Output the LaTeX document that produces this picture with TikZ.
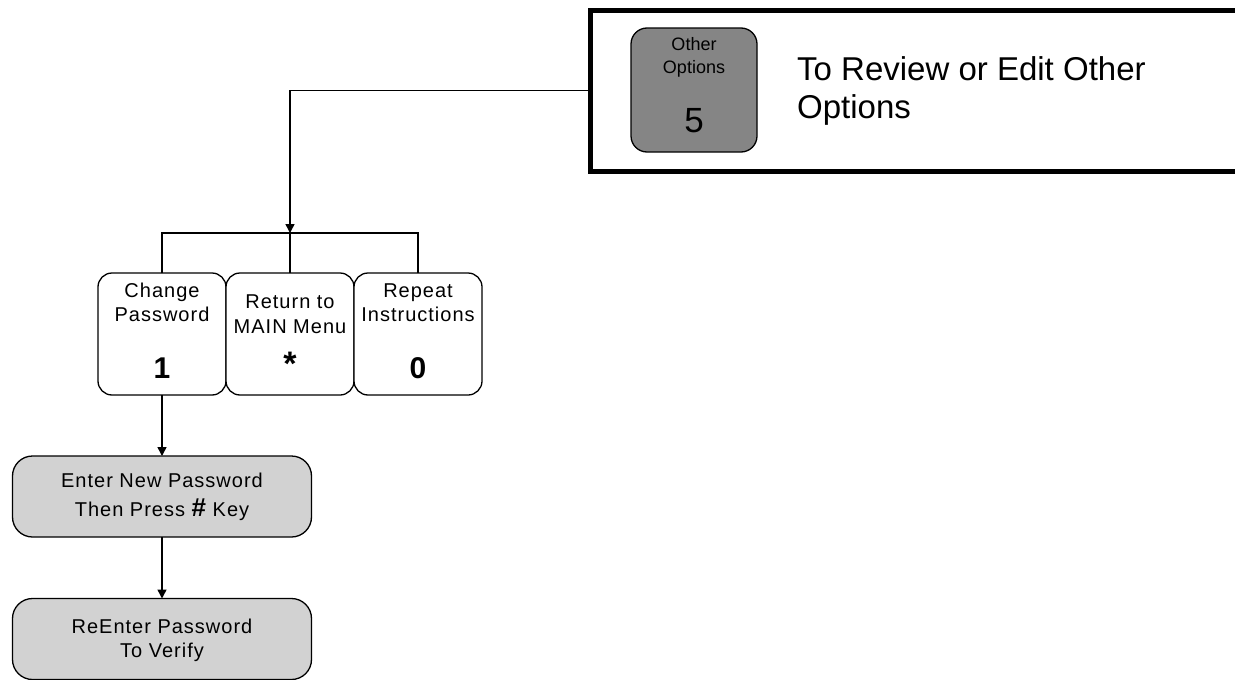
\documentclass[tikz,border=0pt]{standalone}
\usepackage{fontspec}
\setmainfont{Liberation Sans}
\usetikzlibrary{arrows.meta}
\definecolor{darkbox}{HTML}{858585}
\definecolor{lightbox}{HTML}{D2D2D2}
\tikzset{
  optbox/.style={draw, line width=1.3pt, fill=white, rounded corners=14pt, inner sep=0pt, outer sep=0pt, minimum width=128pt, minimum height=122pt},
  stepbox/.style={draw, line width=1.3pt, fill=lightbox, rounded corners=20pt, inner sep=0pt, outer sep=0pt, minimum width=299pt, minimum height=81pt},
  keybox/.style={draw, line width=1.3pt, fill=darkbox, rounded corners=16pt, inner sep=0pt, outer sep=0pt, minimum width=126pt, minimum height=124pt},
  framebox/.style={draw, line width=5pt, inner sep=0pt, outer sep=0pt, minimum width=710pt, minimum height=161pt},
  txt/.style={inner sep=0pt, anchor=base, font=\fontsize{20}{24}\selectfont\addfontfeature{LetterSpace=5}},
  small/.style={inner sep=0pt, anchor=base, font=\fontsize{18}{20}\selectfont},
  big/.style={inner sep=0pt, anchor=base, font=\fontsize{33}{38}\selectfont},
  digit/.style={inner sep=0pt, anchor=base, font=\fontsize{30}{34}\selectfont\bfseries},
  conn/.style={line width=1.5pt},
  arr/.style={conn, -{Triangle[length=9pt,width=9pt]}}
}
\begin{document}
\begin{tikzpicture}[x=1pt,y=-1pt]
\useasboundingbox (0,0) rectangle (1235,680);
% top frame
\node[framebox] (frame) at (945,90.5) {};
\node[keybox] (opt5) at (694,90) {};
\node[small] (opt5a) at (694,50) {Other};
\node[small] (opt5b) at (694,73) {Options};
\node[inner sep=0pt, anchor=base, font=\fontsize{35}{38}\selectfont] (opt5c) at (694,132) {5};
\node[big, anchor=base west] (desc1) at (797,80) {To Review or Edit Other};
\node[big, anchor=base west] (desc2) at (797,118) {Options};
% option boxes
\node[optbox] (chg) at (162,334) {};
\node[optbox] (ret) at (290,334) {};
\node[optbox] (rep) at (418,334) {};
\node[txt] (chgA) at (162,297) {Change};
\node[txt] (chgB) at (162,321) {Password};
\node[digit] (chgC) at (162,378) {1};
\node[txt] (retA) at (290,308) {Return to};
\node[txt] (retB) at (290,333) {MAIN Menu};
\node[inner sep=0pt, font=\fontsize{34}{34}\selectfont\bfseries] (retC) at (290,364) {*};
\node[txt] (repA) at (418,297) {Repeat};
\node[txt] (repB) at (418,321) {Instructions};
\node[digit] (repC) at (418,378) {0};
% step boxes
\node[stepbox] (enter) at (162,496.5) {};
\node[txt] (enterA) at (162,487) {Enter New Password};
\node[txt] (enterB) at (162,516) {Then Press {\fontsize{26}{26}\selectfont\bfseries\#} Key};
\node[stepbox] (reenter) at (162,639) {};
\node[txt] (reenterA) at (162,633) {ReEnter Password};
\node[txt] (reenterB) at (162,657) {To Verify};
% connectors
\coordinate (barmid) at (290,233);
\draw[arr] (frame.west) -| (barmid);
\draw[conn] (chg.north) -- (chg.north |- barmid) -- (rep.north |- barmid) -- (rep.north);
\draw[conn] (ret.north) -- (barmid);
\draw[arr] (chg.south) -- (enter.north);
\draw[arr] (enter.south) -- (reenter.north);
\end{tikzpicture}
\end{document}
